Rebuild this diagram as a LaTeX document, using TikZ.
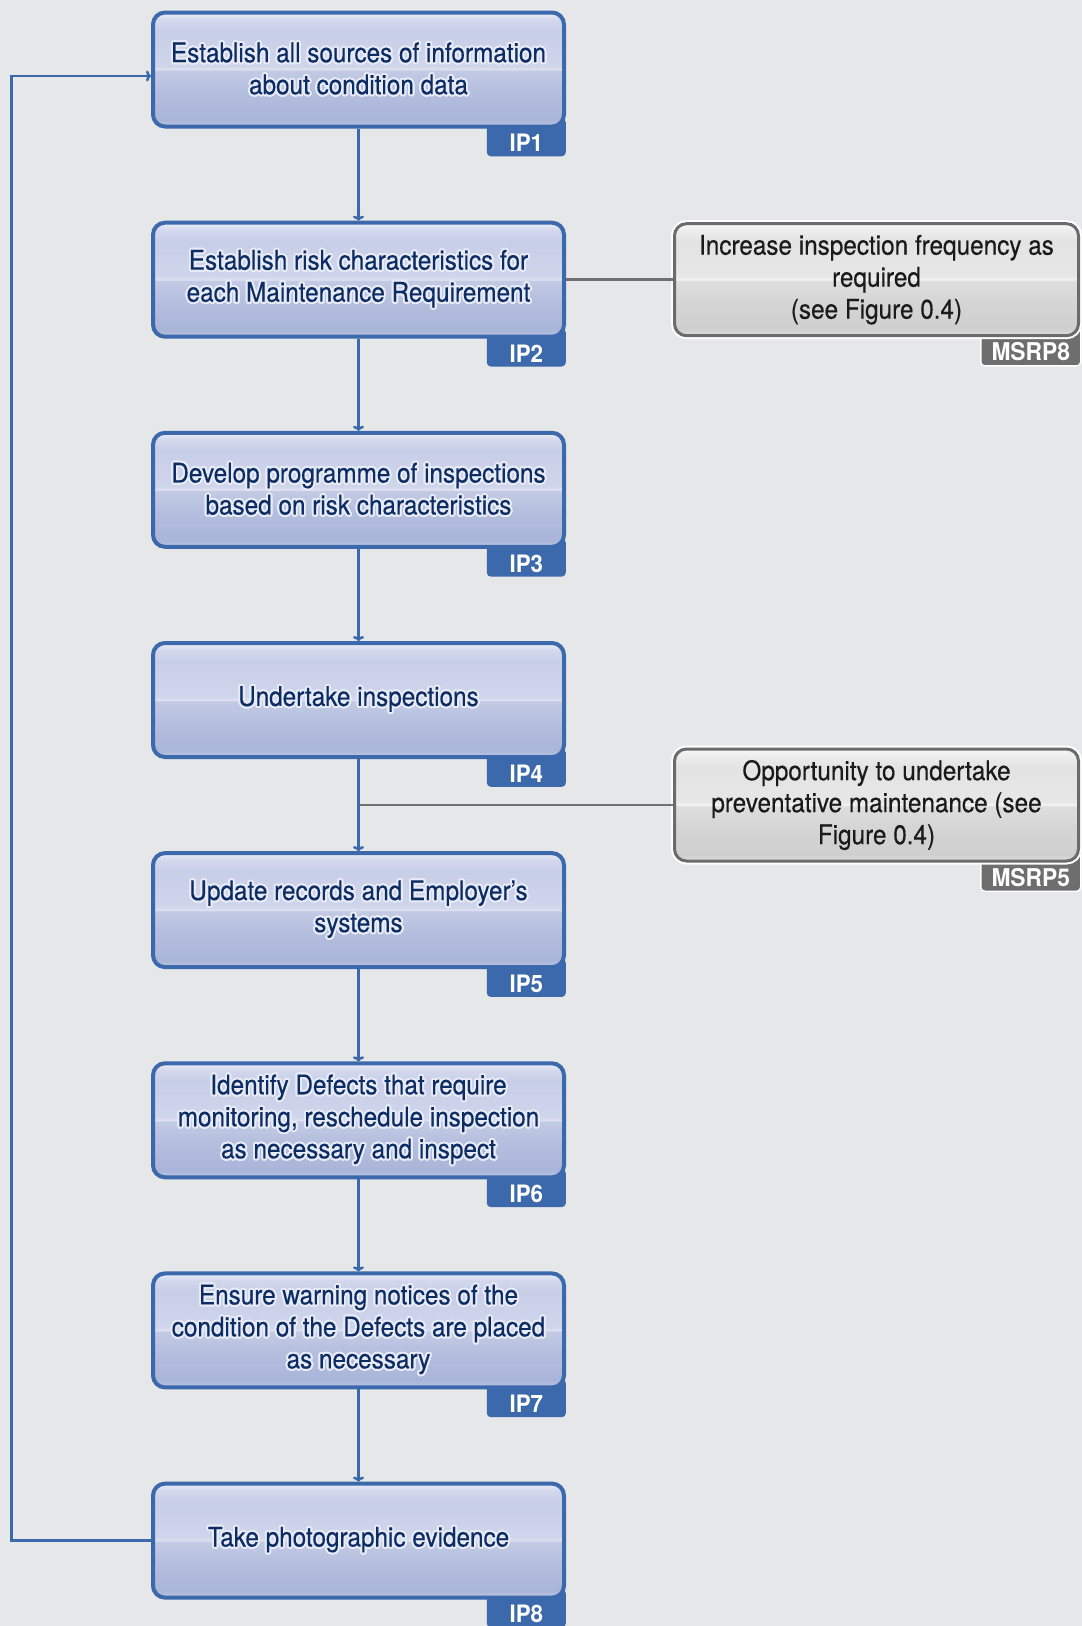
\documentclass[tikz,border=0pt]{standalone}
\usepackage{fontspec}
\setmainfont{TeX Gyre Heros}[FakeStretch=0.9,FakeBold=0.4]
\newfontfamily\tagfont{TeX Gyre Heros}[FakeStretch=0.93]
\usepackage[copies]{contour}
\usetikzlibrary{arrows.meta,calc}

\contourlength{2pt}
\contournumber{28}

% palette
\definecolor{bgcol}{HTML}{E6E7E9}
\definecolor{blueline}{HTML}{3B69AB}
\definecolor{navy}{HTML}{0C2C64}
\definecolor{haloblue}{HTML}{E8EBF6}
\definecolor{grayline}{HTML}{6B6B6B}
\definecolor{graytag}{HTML}{6E6E6E}
\definecolor{graytext}{HTML}{1A1A1A}
\definecolor{linkgray}{HTML}{707070}

% glossy blue fill, bottom to top
\definecolor{bA}{HTML}{BEC6E2}
\definecolor{bB}{HTML}{A9B5D9}
\definecolor{bC}{HTML}{B4BEDE}
\definecolor{bD}{HTML}{C2CAE4}
\definecolor{bE}{HTML}{DDE1F1}
\definecolor{bF}{HTML}{CFD5EB}
\definecolor{bG}{HTML}{C7CEE7}
\definecolor{bH}{HTML}{D3D8ED}
\definecolor{bI}{HTML}{ECEEF8}
\pgfdeclareverticalshading{bluegloss}{100bp}{color(0bp)=(bA); color(25bp)=(bA); color(28bp)=(bB); color(40bp)=(bC); color(49.5bp)=(bD); color(50bp)=(bE); color(51.5bp)=(bF); color(67bp)=(bG); color(72bp)=(bH); color(75bp)=(bI); color(100bp)=(bI)}

% glossy grey fill, bottom to top
\definecolor{gA}{HTML}{DCDCDC}
\definecolor{gB}{HTML}{CFCFCF}
\definecolor{gC}{HTML}{D5D5D5}
\definecolor{gD}{HTML}{DEDEDE}
\definecolor{gE}{HTML}{F3F3F3}
\definecolor{gF}{HTML}{E7E7E7}
\definecolor{gG}{HTML}{E3E3E3}
\definecolor{gH}{HTML}{EDEDED}
\definecolor{gI}{HTML}{F8F8F8}
\pgfdeclareverticalshading{graygloss}{100bp}{color(0bp)=(gA); color(25bp)=(gA); color(28bp)=(gB); color(40bp)=(gC); color(49.5bp)=(gD); color(50bp)=(gE); color(51.5bp)=(gF); color(67bp)=(gG); color(72bp)=(gH); color(75bp)=(gI); color(100bp)=(gI)}

\newcommand{\hl}[1]{\contour{haloblue}{#1}}

\pgfdeclarelayer{bglayer}
\pgfdeclarelayer{taglayer}
\pgfsetlayers{bglayer,taglayer,main}

\tikzset{
  stepbox/.style={rectangle, rounded corners=12pt, minimum width=411pt, minimum height=114pt,
    inner sep=0pt, outer sep=2pt, draw=blueline, line width=4pt, shade, shading=bluegloss,
    text=navy, align=center, font=\fontsize{27}{32}\selectfont},
  notebox/.style={rectangle, rounded corners=12pt, minimum width=404pt, minimum height=112pt,
    inner sep=0pt, outer sep=1.5pt, preaction={draw=white, line width=7pt},
    draw=grayline, line width=3pt, shade, shading=graygloss,
    text=graytext, align=center, font=\fontsize{27}{32}\selectfont},
  bluetag/.style={rectangle, rounded corners=4pt, fill=blueline, minimum width=79pt,
    minimum height=38pt, inner sep=0pt, text=white, anchor=south east,
    font=\tagfont\bfseries\fontsize{24}{24}\selectfont},
  graytag/.style={rectangle, rounded corners=4pt, fill=graytag, draw=white, line width=1.5pt,
    minimum width=100pt, minimum height=40pt, inner sep=0pt, text=white, anchor=south east,
    font=\tagfont\bfseries\fontsize{24.5}{24.5}\selectfont},
  flow/.style={draw=blueline, line width=2.5pt, -{To[length=5pt,width=11pt]}},
  link/.style={draw=linkgray, line width=2.5pt},
}

\begin{document}
\begin{tikzpicture}[x=1pt, y=-1pt]
\begin{pgfonlayer}{bglayer}
  \fill[bgcol] (0,0) rectangle (1082,1626);
\end{pgfonlayer}
\useasboundingbox (0,0) rectangle (1082,1626);

% process steps
\node[stepbox] (ip1) at (358.5,69.5)  {\hl{Establish all sources of information}\\\hl{about condition data}};
\node[stepbox] (ip2) at (358.5,279.7) {\hl{Establish risk characteristics for}\\\hl{each Maintenance Requirement}};
\node[stepbox] (ip3) at (358.5,489.8) {\hl{Develop programme of inspections}\\\hl{based on risk characteristics}};
\node[stepbox] (ip4) at (358.5,700)   {\hl{Undertake inspections}};
\node[stepbox] (ip5) at (358.5,910.1) {\hl{Update records and Employer’s}\\\hl{systems}};
\node[stepbox] (ip6) at (358.5,1120.3){\hl{Identify Defects that require}\\\hl{monitoring, reschedule inspection}\\\hl{as necessary and inspect}};
\node[stepbox] (ip7) at (358.5,1330.4){\hl{Ensure warning notices of the}\\\hl{condition of the Defects are placed}\\\hl{as necessary}};
\node[stepbox] (ip8) at (358.5,1540.6){\hl{Take photographic evidence}};

% side notes
\node[notebox] (n8) at (876.5,279.7) {Increase inspection frequency as\\required\\(see Figure 0.4)};
\node[notebox] (n5) at (876.5,805)   {Opportunity to undertake\\preventative maintenance (see\\Figure 0.4)};

% reference tags tucked under the boxes
\begin{pgfonlayer}{taglayer}
  \node[bluetag] (t1) at ($(ip1.south east)+(0,28)$) {\raisebox{-14.5pt}[0pt][0pt]{IP1}};
  \node[bluetag] (t2) at ($(ip2.south east)+(0,28)$) {\raisebox{-14.5pt}[0pt][0pt]{IP2}};
  \node[bluetag] (t3) at ($(ip3.south east)+(0,28)$) {\raisebox{-14.5pt}[0pt][0pt]{IP3}};
  \node[bluetag] (t4) at ($(ip4.south east)+(0,28)$) {\raisebox{-14.5pt}[0pt][0pt]{IP4}};
  \node[bluetag] (t5) at ($(ip5.south east)+(0,28)$) {\raisebox{-14.5pt}[0pt][0pt]{IP5}};
  \node[bluetag] (t6) at ($(ip6.south east)+(0,28)$) {\raisebox{-14.5pt}[0pt][0pt]{IP6}};
  \node[bluetag] (t7) at ($(ip7.south east)+(0,28)$) {\raisebox{-14.5pt}[0pt][0pt]{IP7}};
  \node[bluetag] (t8) at ($(ip8.south east)+(0,28)$) {\raisebox{-14.5pt}[0pt][0pt]{IP8}};
  \node[graytag] (tm8) at ($(n8.south east)+(1.5,29.5)$) {\raisebox{-15pt}[0pt][0pt]{MSRP8}};
  \node[graytag] (tm5) at ($(n5.south east)+(1.5,29.5)$) {\raisebox{-15pt}[0pt][0pt]{MSRP5}};
\end{pgfonlayer}

% links to the side notes
\draw[link] (ip2.east) -- (n8.west);
\draw[link] (ip4.south |- n5.west) -- (n5.west);

% main flow
\draw[flow] (ip1.south) -- (ip2.north);
\draw[flow] (ip2.south) -- (ip3.north);
\draw[flow] (ip3.south) -- (ip4.north);
\draw[flow] (ip4.south) -- (ip5.north);
\draw[flow] (ip5.south) -- (ip6.north);
\draw[flow] (ip6.south) -- (ip7.north);
\draw[flow] (ip7.south) -- (ip8.north);

% feedback loop
\draw[flow] (ip8.west) -- ++(-139.5,0) |- ($(ip1.west)+(0,6.5)$);
\end{tikzpicture}
\end{document}
